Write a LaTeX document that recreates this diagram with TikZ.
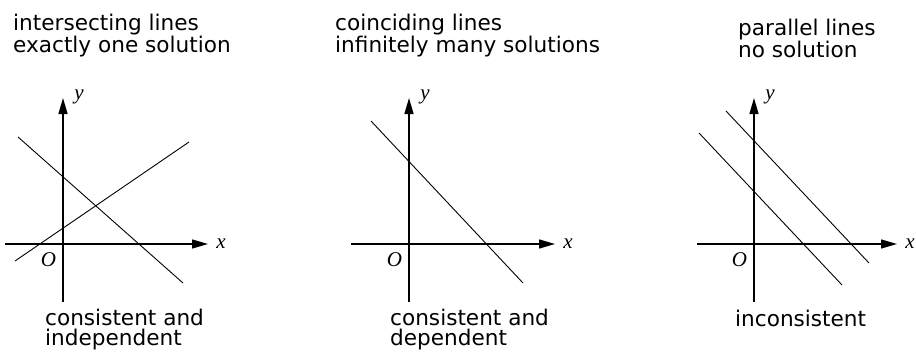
\documentclass[tikz,border=0pt]{standalone}
\usepackage{fontspec}
\setmainfont{DejaVu Sans}
\newfontfamily\axisfont{Liberation Serif}
\usetikzlibrary{arrows.meta}
\tikzset{
  axis/.style={line width=1.4pt, -{Triangle[length=16pt,width=9pt]}},
  graphline/.style={line width=0.9pt},
  caption/.style={font=\fontsize{21.6}{20}\selectfont, align=left, inner sep=0pt, anchor=north west},
  varlabel/.style={font=\fontsize{21}{21}\selectfont\axisfont\itshape, inner sep=0pt}
}

\begin{document}
\begin{tikzpicture}[x=1pt,y=-1pt]
\useasboundingbox (0,0) rectangle (916,356);

% Captions above and below each graph.
\node[caption] (title1) at (13,14) {intersecting lines\\exactly one solution};
\node[caption] (title2) at (335,14) {coinciding lines\\infinitely many solutions};
\node[caption] (title3) at (738,19) {parallel lines\\no solution};
\node[caption] (kind1) at (45,309) {consistent and\\independent};
\node[caption] (kind2) at (390,309) {consistent and\\dependent};
\node[caption] (kind3) at (735,310) {inconsistent};

% Axes: panel / origin x / left end / right tip.
\foreach \n/\ox/\xl/\xr in {1/63/5/208, 2/409/351/555, 3/754/697/897} {
  \coordinate (xl\n) at (\xl,244);
  \coordinate (xr\n) at (\xr,244);
  \coordinate (yb\n) at (\ox,302);
  \coordinate (yt\n) at (\ox,98);
  \draw[axis] (xl\n) -- (xr\n);
  \draw[axis] (yb\n) -- (yt\n);
  \node[varlabel] (xlab\n) at ([xshift=13pt]xr\n) {x};
  \node[varlabel] (ylab\n) at ([xshift=16pt,yshift=1pt]yt\n) {y};
  \node[varlabel] (olab\n) at (\ox-14.5,260) {O};
}

% Graphs of the two equations.
\coordinate (a1) at (18,137);  \coordinate (b1) at (183,283);
\coordinate (c1) at (15,261);  \coordinate (d1) at (189,142);
\draw[graphline] (a1) -- (b1);
\draw[graphline] (c1) -- (d1);

\coordinate (a2) at (371,121); \coordinate (b2) at (523,283);
\draw[graphline] (a2) -- (b2);

\coordinate (a3) at (726,111); \coordinate (b3) at (869,263);
\coordinate (c3) at (699,133); \coordinate (d3) at (842,285);
\draw[graphline] (a3) -- (b3);
\draw[graphline] (c3) -- (d3);

\end{tikzpicture}
\end{document}
